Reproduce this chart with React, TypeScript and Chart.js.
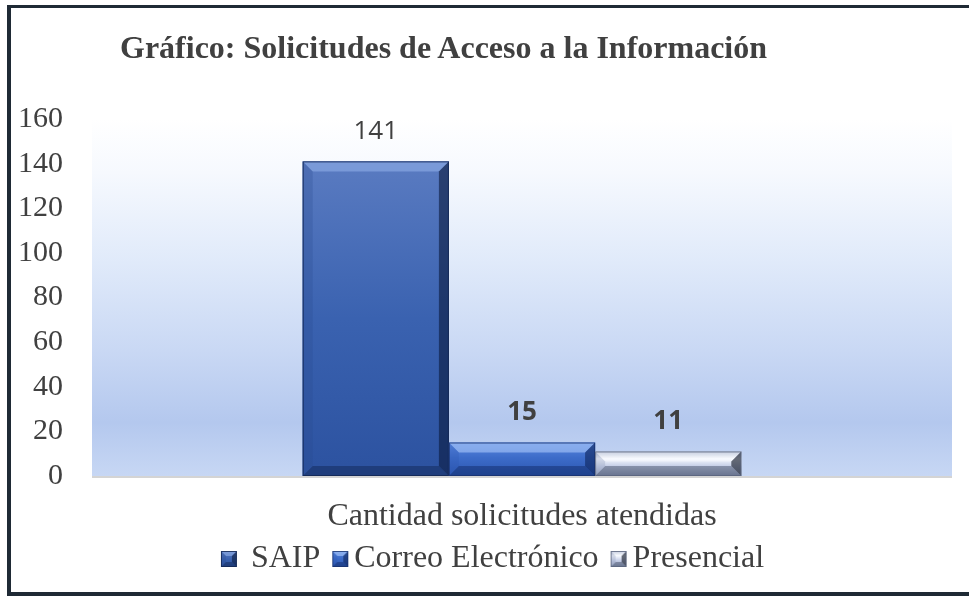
import React, { useEffect, useRef } from "react";
import { Chart, registerables } from "chart.js";

Chart.register(...registerables);

// ---------- DATA ----------
const chartTitle = "Gráfico: Solicitudes de Acceso a la Información";
const categories = ["Cantidad solicitudes atendidas"];
const seriesNames = [" SAIP", "Correo Electrónico", "Presencial"];
const saipValues = [141];
const correoValues = [15];
const presencialValues = [11];
const yTickValues = [0, 20, 40, 60, 80, 100, 120, 140, 160];
const labelWeights = ["400", "700", "700"];

// ---------- STYLES ----------
type BevelStyle = {
  face: [number, string][];
  top: string;
  bottom: string;
  left: string;
  right: string;
  edge: string;
};

const bevelStyles: BevelStyle[] = [
  {
    face: [[0, "#5a7bc1"], [0.5, "#3a62b0"], [1, "#2c52a0"]],
    top: "rgba(150,180,235,0.55)",
    bottom: "rgba(15,35,80,0.45)",
    left: "rgba(40,70,140,0.25)",
    right: "rgba(10,25,60,0.6)",
    edge: "rgba(20,40,85,0.85)",
  },
  {
    face: [[0, "#5a88e0"], [0.45, "#3d6cc9"], [1, "#2b56b0"]],
    top: "rgba(170,200,250,0.6)",
    bottom: "rgba(15,40,100,0.45)",
    left: "rgba(40,80,170,0.2)",
    right: "rgba(10,30,80,0.55)",
    edge: "rgba(25,50,110,0.8)",
  },
  {
    face: [[0, "#a7b2ce"], [0.3, "#f6f9ff"], [0.6, "#c4cde6"], [1, "#8e9ab8"]],
    top: "rgba(255,255,255,0.35)",
    bottom: "rgba(60,70,95,0.45)",
    left: "rgba(150,160,190,0.35)",
    right: "rgba(40,45,60,0.7)",
    edge: "rgba(90,100,125,0.8)",
  },
];

const solidColors = ["#3a62b0", "#3d6cc9", "#b8c2dc"];

function drawBevelBox(
  c: CanvasRenderingContext2D,
  left: number,
  top: number,
  right: number,
  bottom: number,
  st: BevelStyle,
  bevel: number
) {
  const w = right - left;
  const h = bottom - top;
  if (w <= 0 || h <= 0) return;
  const b = Math.min(bevel, w / 2, h / 2);
  const g = c.createLinearGradient(0, top, 0, bottom);
  st.face.forEach(([o, col]) => g.addColorStop(o, col));
  c.save();
  c.fillStyle = g;
  c.fillRect(left, top, w, h);
  const poly = (pts: number[][], fill: string) => {
    c.beginPath();
    c.moveTo(pts[0][0], pts[0][1]);
    for (let i = 1; i < pts.length; i++) c.lineTo(pts[i][0], pts[i][1]);
    c.closePath();
    c.fillStyle = fill;
    c.fill();
  };
  poly([[left, top], [right, top], [right - b, top + b], [left + b, top + b]], st.top);
  poly([[left, bottom], [right, bottom], [right - b, bottom - b], [left + b, bottom - b]], st.bottom);
  poly([[left, top], [left + b, top + b], [left + b, bottom - b], [left, bottom]], st.left);
  poly([[right, top], [right - b, top + b], [right - b, bottom - b], [right, bottom]], st.right);
  c.strokeStyle = st.edge;
  c.lineWidth = 1;
  c.strokeRect(left + 0.5, top + 0.5, w - 1, h - 1);
  c.restore();
}

// marker image: a 16px beveled square placed inside a wider transparent canvas
// so that it sits close to its label text
function makeMarker(st: BevelStyle): HTMLCanvasElement {
  const cv = document.createElement("canvas");
  cv.width = 29;
  cv.height = 16;
  const c = cv.getContext("2d")!;
  drawBevelBox(c, 12, 0, 28, 16, st, 5);
  return cv;
}

// ---------- PLUGINS ----------
const plotBackground = {
  id: "plotBackground",
  beforeDatasetsDraw(chart: any) {
    const { ctx, chartArea } = chart;
    if (!chartArea) return;
    const { left, right, top, bottom } = chartArea;
    ctx.save();
    const g = ctx.createLinearGradient(0, top, 0, bottom);
    g.addColorStop(0, "#ffffff");
    g.addColorStop(0.15, "#f6f9fe");
    g.addColorStop(0.4, "#e0eafa");
    g.addColorStop(0.65, "#c9d8f4");
    g.addColorStop(0.85, "#b4c8ee");
    g.addColorStop(1, "#c7d7f4");
    ctx.fillStyle = g;
    ctx.fillRect(left, top, right - left, bottom - top);
    ctx.fillStyle = "#d4d4d4";
    ctx.fillRect(left, bottom, right - left, 2);
    ctx.restore();
  },
};

const bevelBars = {
  id: "bevelBars",
  afterDatasetsDraw(chart: any) {
    const { ctx } = chart;
    chart.data.datasets.forEach((ds: any, di: number) => {
      const meta = chart.getDatasetMeta(di);
      if (meta.hidden) return;
      meta.data.forEach((el: any) => {
        const p = el.getProps(["x", "y", "base", "width"], true);
        const left = p.x - p.width / 2;
        const right = p.x + p.width / 2;
        const top = Math.min(p.y, p.base);
        const bottom = Math.max(p.y, p.base);
        drawBevelBox(ctx, left, top, right, bottom, bevelStyles[di], 10);
      });
    });
  },
};

const valueLabels = {
  id: "valueLabels",
  afterDatasetsDraw(chart: any) {
    const { ctx } = chart;
    ctx.save();
    ctx.fillStyle = "#404040";
    ctx.textAlign = "center";
    ctx.textBaseline = "middle";
    chart.data.datasets.forEach((ds: any, di: number) => {
      const meta = chart.getDatasetMeta(di);
      ctx.font = `${labelWeights[di]} 26px "Open Sans"`;
      meta.data.forEach((el: any, i: number) => {
        const p = el.getProps(["x", "y"], true);
        ctx.fillText(String(ds.data[i]), p.x, p.y - 30);
      });
    });
    ctx.restore();
  },
};

// shift the centred legend row a little to the right, as in the reference
const legendShift = {
  id: "legendShift",
  afterLayout(chart: any) {
    if (chart.legend) {
      chart.legend.left += 16;
      chart.legend.right += 16;
    }
  },
};

export default function App() {
  const ref = useRef<HTMLCanvasElement>(null);

  useEffect(() => {
    const markers = bevelStyles.map(makeMarker);
    const seriesData = [saipValues, correoValues, presencialValues];
    const chart = new Chart(ref.current!, {
      type: "bar",
      data: {
        labels: categories,
        datasets: seriesNames.map((name, i) => ({
          label: name,
          data: seriesData[i],
          backgroundColor: solidColors[i],
          borderWidth: 0,
          categoryPercentage: 0.51,
          barPercentage: 1,
        })),
      },
      options: {
        responsive: false,
        animation: false,
        layout: { padding: { top: 119, right: 17, bottom: 11, left: 0 } },
        scales: {
          x: {
            grid: { display: false, drawTicks: false },
            border: { display: false },
            ticks: {
              padding: 21,
              color: "#404040",
              font: { family: "Liberation Serif", size: 32 },
            },
            afterFit(scale: any) {
              scale.height = 56;
            },
          },
          y: {
            min: 0,
            max: 160,
            grid: { display: false, drawTicks: false },
            border: { display: false },
            afterBuildTicks(scale: any) {
              scale.ticks = yTickValues.map((v) => ({ value: v }));
            },
            ticks: {
              autoSkip: false,
              padding: 29,
              color: "#404040",
              font: { family: "Liberation Serif", size: 30 },
            },
            afterFit(scale: any) {
              scale.width = 92;
            },
          },
        },
        plugins: {
          title: { display: false },
          tooltip: { enabled: false },
          legend: {
            position: "bottom",
            labels: {
              usePointStyle: true,
              pointStyleWidth: 7,
              boxHeight: 16,
              padding: 11,
              color: "#404040",
              font: { family: "Liberation Serif", size: 32 },
              generateLabels: () =>
                seriesNames.map((n, i) => ({
                  text: n,
                  pointStyle: markers[i] as any,
                  datasetIndex: i,
                  hidden: false,
                  fillStyle: "transparent",
                  strokeStyle: "transparent",
                  lineWidth: 0,
                  fontColor: "#404040",
                })),
            },
          },
        },
      } as any,
      plugins: [plotBackground, bevelBars, valueLabels, legendShift],
    });
    return () => chart.destroy();
  }, []);

  return (
    <div
      style={{
        position: "fixed",
        left: 0,
        top: 0,
        width: 969,
        height: 596,
        background: "#ffffff",
        overflow: "hidden",
      }}
    >
      <canvas
        ref={ref}
        width={969}
        height={596}
        style={{ position: "absolute", left: 0, top: 0, width: 969, height: 596 }}
      />
      <div
        style={{
          position: "absolute",
          left: 7,
          top: 5,
          width: 990,
          height: 591,
          boxSizing: "border-box",
          borderLeft: "4px solid #1f2a35",
          borderTop: "3px solid #1f2a35",
          borderBottom: "4px solid #1f2a35",
          pointerEvents: "none",
        }}
      />
      <div
        style={{
          position: "absolute",
          left: 120,
          top: 28,
          fontFamily: '"Liberation Serif", serif',
          fontWeight: "bold",
          fontSize: 32,
          lineHeight: "38px",
          color: "#404040",
          whiteSpace: "nowrap",
        }}
      >
        {chartTitle}
      </div>
    </div>
  );
}
